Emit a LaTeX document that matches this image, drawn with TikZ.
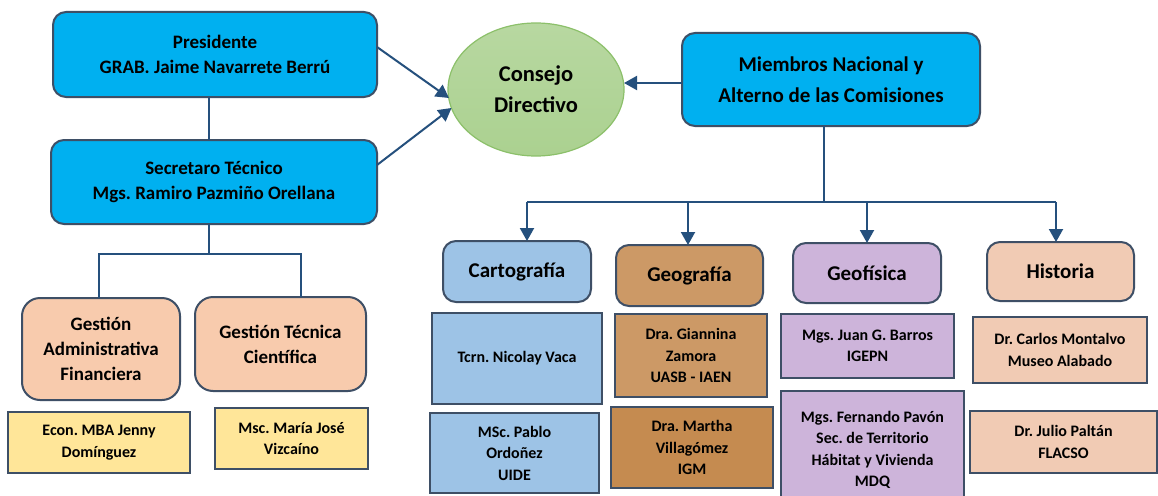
\documentclass[tikz,border=0pt]{standalone}
\usepackage{fontspec}
\setmainfont{Carlito}
\usetikzlibrary{arrows.meta,calc,shapes.geometric}
\definecolor{cyanF}{HTML}{00B0F0}
\definecolor{bordC}{HTML}{3E4F66}
\definecolor{lineC}{HTML}{25507D}
\definecolor{greenF}{HTML}{ABD190}
\definecolor{greenB}{HTML}{8CC06A}
\definecolor{peachF}{HTML}{F8CBAD}
\definecolor{yellF}{HTML}{FFE699}
\definecolor{cartF}{HTML}{9DC3E6}
\definecolor{geogF}{HTML}{CC9966}
\definecolor{geogD}{HTML}{C58B50}
\definecolor{geofF}{HTML}{CDB4DA}
\definecolor{histF}{HTML}{F1CBB4}
\frenchspacing
\begin{document}
\begin{tikzpicture}[x=1pt,y=-1pt,
  rbox/.style={draw=bordC, line width=2pt, rounded corners=13pt, align=center, inner sep=0pt, outer sep=0pt, font=\bfseries},
  sbox/.style={draw=bordC, line width=2.5pt, align=center, inner sep=0pt, outer sep=0pt, font=\bfseries},
  conn/.style={draw=lineC, line width=2pt},
  arr/.style={conn, -{Triangle[length=13pt,width=14pt]}},
  fA/.style={font=\bfseries\fontsize{19}{25}\selectfont},
  fB/.style={font=\bfseries\fontsize{21}{31}\selectfont},
  fC/.style={font=\bfseries\fontsize{22.5}{31}\selectfont},
  fG/.style={font=\bfseries\fontsize{19}{25}\selectfont},
  fH/.style={font=\bfseries\fontsize{21}{26}\selectfont},
  fS/.style={font=\bfseries\fontsize{16}{21.5}\selectfont}
]
\clip (0,0) rectangle (1158,495);
\fill[white] (0,0) rectangle (1158,495);

% top left
\node[rbox, fA, fill=cyanF, minimum width=324, minimum height=85] (pres) at (215,54.5) {Presidente\\GRAB. Jaime Navarrete Berrú};
\node[rbox, fA, fill=cyanF, minimum width=326, minimum height=84] (sec) at (214,182) {Secretaro Técnico\\Mgs. Ramiro Pazmiño Orellana};
\node[rbox, fG, fill=peachF, rounded corners=18pt, minimum width=158, minimum height=102] (gaf) at (101,349) {Gestión\\Administrativa\\Financiera};
\node[rbox, fG, fill=peachF, rounded corners=18pt, minimum width=171, minimum height=94] (gtc) at (280.5,344) {Gestión Técnica\\Científica};
\node[sbox, fS, fill=yellF, minimum width=182, minimum height=61] (econ) at (99,442.5) {Econ. MBA Jenny\\Domínguez};
\node[sbox, fS, fill=yellF, minimum width=153, minimum height=61] (msc) at (291.5,438.5) {Msc. María José\\Vizcaíno};

% centre
\node[ellipse, draw=greenB, line width=1.2pt, top color=greenF!85!white, bottom color=greenF, minimum width=176, minimum height=133, inner sep=0pt, outer sep=0pt, align=center, fC] (cd) at (536,89.5) {Consejo\\Directivo};
\node[rbox, fB, fill=cyanF, minimum width=298, minimum height=93] (mn) at (831,79.5) {Miembros Nacional y\\Alterno de las Comisiones};

% commissions
\node[rbox, fH, fill=cartF, minimum width=148, minimum height=61] (cart) at (517,271.5) {Cartografía};
\node[rbox, fH, fill=geogF, minimum width=147, minimum height=61] (geog) at (689.5,275.5) {Geografía};
\node[rbox, fH, fill=geofF, minimum width=148, minimum height=60] (geof) at (867,273) {Geofísica};
\node[rbox, fH, fill=histF, minimum width=147, minimum height=59] (hist) at (1060.5,271.5) {Historia};

\node[sbox, fS, fill=cartF, minimum width=170, minimum height=91] (tcrn) at (517,358.5) {Tcrn. Nicolay Vaca};
\node[sbox, fS, fill=cartF, minimum width=169, minimum height=80] (pablo) at (514.5,453) {MSc. Pablo\\Ordoñez\\UIDE};
\node[sbox, fS, fill=geogF, minimum width=152, minimum height=83] (giann) at (691,355.5) {Dra. Giannina\\Zamora\\UASB - IAEN};
\node[sbox, fS, fill=geogD, minimum width=162, minimum height=81] (martha) at (692,447.5) {Dra. Martha\\Villagómez\\IGM};
\node[sbox, fS, fill=geofF, minimum width=173, minimum height=64] (juan) at (867.5,346) {Mgs. Juan G. Barros\\IGEPN};
\node[sbox, fS, fill=geofF, minimum width=183, minimum height=118] (fern) at (872.5,450) {Mgs. Fernando Pavón\\Sec. de Territorio\\Hábitat y Vivienda\\MDQ};
\node[sbox, fS, fill=histF, minimum width=174, minimum height=66] (carlos) at (1060,350) {Dr. Carlos Montalvo\\Museo Alabado};
\node[sbox, fS, fill=histF, minimum width=187, minimum height=62] (julio) at (1063.5,442) {Dr. Julio Paltán\\FLACSO};

% connectors left
\coordinate (lv) at (209,0);
\coordinate (lb) at (209,254);
\draw[conn] (pres.south -| lv) -- (sec.north -| lv);
\draw[conn] (sec.south -| lb) -- (lb);
\draw[conn] ([xshift=-2pt]gaf.north) |- (lb) -| ([xshift=20.5pt]gtc.north);
\draw[arr] ([yshift=7.5pt]pres.east) -- ([xshift=1pt,yshift=-8.5pt]cd.west);
\draw[arr] ([yshift=17pt]sec.east) -- ([xshift=3.5pt,yshift=-18.5pt]cd.west);
\draw[arr] ([yshift=-3.5pt]mn.west) -- ([yshift=-3.5pt]mn.west -| cd.east);

% connectors right
\coordinate (bus) at (824,202);
\draw[conn] (mn.south -| bus) -- (bus);
\draw[conn] ([xshift=10pt]cart.north |- bus) -- ([xshift=-4.5pt]hist.north |- bus);
\draw[arr] ([xshift=10pt]cart.north |- bus) -- ([xshift=10pt]cart.north);
\draw[arr] ([xshift=-1.5pt]geog.north |- bus) -- ([xshift=-1.5pt]geog.north);
\draw[arr] (geof.north |- bus) -- (geof.north);
\draw[arr] ([xshift=-4.5pt]hist.north |- bus) -- ([xshift=-4.5pt]hist.north);
\end{tikzpicture}
\end{document}
